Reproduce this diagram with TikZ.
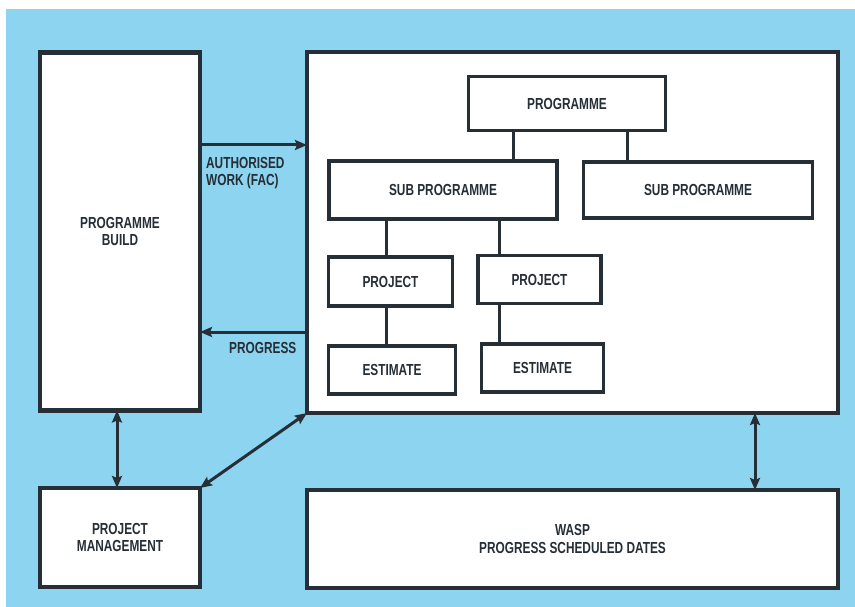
\documentclass[tikz,border=0pt]{standalone}
\usepackage{fontspec}
\setmainfont{Liberation Sans}[FakeStretch=0.74]
\usetikzlibrary{arrows.meta}
\definecolor{sky}{RGB}{141,212,240}
\definecolor{ink}{RGB}{38,46,54}
\tikzset{
  every node/.style={font=\bfseries\fontsize{16}{17.5}\selectfont, text=ink},
  outerbox/.style={draw=ink, line width=4.5pt, fill=white, align=center, inner sep=0pt, outer sep=0pt},
  innerbox/.style={draw=ink, line width=3.5pt, fill=white, align=center, inner sep=0pt, outer sep=0pt},
  link/.style={draw=ink, line width=3pt},
  flow/.style={draw=ink, line width=3pt, -{Stealth[length=12pt,width=10pt,inset=2pt]}},
  twoway/.style={draw=ink, line width=3pt, {Stealth[length=12pt,width=10pt,inset=2pt]}-{Stealth[length=12pt,width=10pt,inset=2pt]}},
  lbl/.style={align=left, inner sep=0pt}
}
\begin{document}
\begin{tikzpicture}[x=1pt,y=-1pt]
  % page and sky-blue panel
  \fill[white] (0,0) rectangle (855,607);
  \fill[sky] (6,9) rectangle (855,607);
  \useasboundingbox (0,0) rectangle (855,607);

  % outer boxes
  \node[outerbox, minimum width=160pt, minimum height=358pt] (build) at (120,231.5) {PROGRAMME\\BUILD};
  \node[outerbox, minimum width=531pt, minimum height=361pt] (main) at (572.5,232.5) {};
  \node[outerbox, minimum width=160pt, minimum height=99pt] (pm) at (120,537.5) {PROJECT\\MANAGEMENT};
  \node[outerbox, minimum width=531pt, minimum height=98pt] (wasp) at (572.5,539) {WASP\\PROGRESS SCHEDULED DATES};

  % hierarchy inside the main box
  \node[innerbox, minimum width=197pt, minimum height=54pt] (prog) at (567,103.5) {PROGRAMME};
  \node[innerbox, minimum width=228pt, minimum height=58pt] (subl) at (443,190) {SUB PROGRAMME};
  \node[innerbox, minimum width=229pt, minimum height=56pt] (subr) at (698,190) {SUB PROGRAMME};
  \node[innerbox, minimum width=124pt, minimum height=49pt] (projl) at (390.5,281.5) {PROJECT};
  \node[innerbox, minimum width=123pt, minimum height=48pt] (projr) at (539.5,279.5) {PROJECT};
  \node[innerbox, minimum width=127pt, minimum height=48pt] (estl) at (392,370) {ESTIMATE};
  \node[innerbox, minimum width=122pt, minimum height=48pt] (estr) at (542.5,368) {ESTIMATE};

  % x positions of the tree links
  \coordinate (ka) at (513,0);
  \coordinate (kb) at (627,0);
  \coordinate (kc) at (386,0);
  \coordinate (kd) at (499,0);
  \draw[link] (prog.south -| ka) -- (subl.north -| ka);
  \draw[link] (prog.south -| kb) -- (subr.north -| kb);
  \draw[link] (subl.south -| kc) -- (projl.north -| kc);
  \draw[link] (subl.south -| kd) -- (projr.north -| kd);
  \draw[link] (projl.south -| kc) -- (estl.north -| kc);
  \draw[link] (projr.south -| kd) -- (estr.north -| kd);

  % flows between the boxes
  \coordinate (ya) at (0,145);
  \coordinate (yb) at (0,332);
  \coordinate (xa) at (117,0);
  \coordinate (xb) at (755,0);
  \draw[flow] (build.east |- ya) -- (main.west |- ya);
  \draw[flow] (main.west |- yb) -- (build.east |- yb);
  \draw[twoway] (build.south -| xa) -- (pm.north -| xa);
  \draw[twoway] (pm.north east) -- (main.south west);
  \draw[twoway] (main.south -| xb) -- (wasp.north -| xb);

  % flow labels
  \node[lbl, anchor=north west] (auth) at (206,157) {AUTHORISED\\WORK (FAC)};
  \node[lbl, anchor=north west] (progr) at (229,342) {PROGRESS};
\end{tikzpicture}
\end{document}
